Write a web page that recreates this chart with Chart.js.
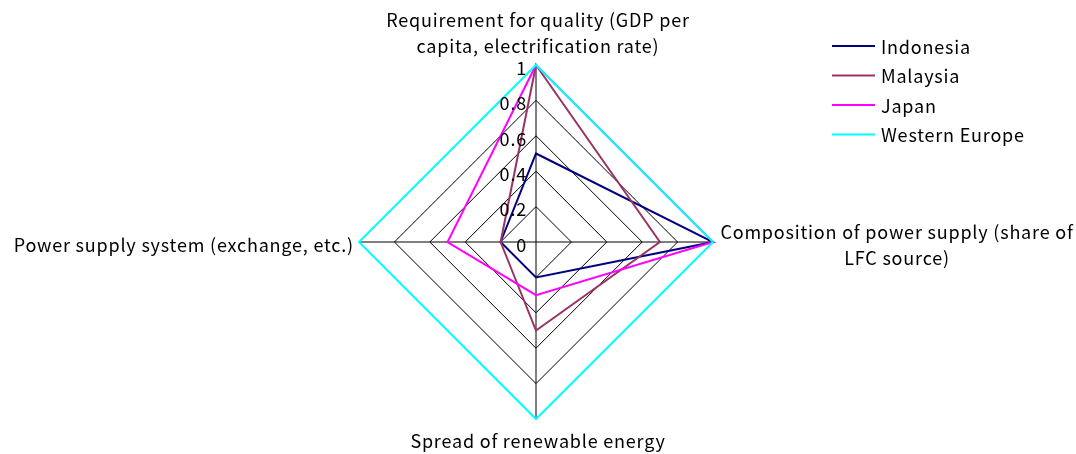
<!DOCTYPE html>
<html>
<head>
<meta charset="utf-8">
<script src="https://cdn.jsdelivr.net/npm/chart.js@4.4.1/dist/chart.umd.min.js"></script>
<style>
  html, body { margin: 0; padding: 0; background: #fff; }
  #wrap { width: 1076px; height: 454px; }
</style>
</head>
<body>
<div id="wrap"><canvas id="c" width="1076" height="454"></canvas></div>
<script>
const axisLabels = [
  ['Requirement for quality (GDP per', 'capita, electrification rate)'],
  ['Composition of power supply (share of', 'LFC source)'],
  ['Spread of renewable energy'],
  ['Power supply system (exchange, etc.)']
];
const seriesNames = ['Indonesia', 'Malaysia', 'Japan', 'Western Europe'];
const indonesia = [0.5, 1, 0.2, 0.2];
const malaysia = [1, 0.7, 0.5, 0.2];
const japan = [1, 1, 0.3, 0.5];
const westernEurope = [1, 1, 1, 1];
const tickValues = [0, 0.2, 0.4, 0.6, 0.8, 1];
const tickLabels = ['0', '0.2', '0.4', '0.6', '0.8', '1'];
const colors = ['#000080', '#993366', '#FF00FF', '#00FFFF'];

const FONT = '18px "Noto Sans CJK JP", "Noto Sans", sans-serif';

const seriesData = [indonesia, malaysia, japan, westernEurope];

// Draws axis titles, tick numbers and the legend on top of the radar.
const annotate = {
  id: 'annotate',
  afterDraw(chart) {
    const ctx = chart.ctx;
    const r = chart.scales.r;
    const cx = r.xCenter, cy = r.yCenter;
    ctx.save();
    ctx.font = FONT;
    ctx.letterSpacing = '0.8px';
    ctx.fillStyle = '#000';

    // tick numbers along the upper vertical axis
    ctx.textAlign = 'right';
    ctx.textBaseline = 'middle';
    tickValues.forEach((v, i) => {
      const d = r.getDistanceFromCenterForValue(v);
      ctx.fillText(tickLabels[i], cx - 9, cy - d + 3);
    });

    // axis titles
    const lh = 26;
    const top = r.getPointPositionForValue(0, 1);
    ctx.textAlign = 'center';
    ctx.fillText(axisLabels[0][0], top.x + 2, top.y - 45);
    ctx.fillText(axisLabels[0][1], top.x + 2, top.y - 45 + lh);

    const right = r.getPointPositionForValue(1, 1);
    ctx.textAlign = 'center';
    ctx.fillText(axisLabels[1][0], right.x + 184, right.y - 10);
    ctx.fillText(axisLabels[1][1], right.x + 184, right.y - 10 + lh);

    const bottom = r.getPointPositionForValue(2, 1);
    ctx.textAlign = 'center';
    ctx.fillText(axisLabels[2][0], bottom.x + 2, bottom.y + 22);

    const left = r.getPointPositionForValue(3, 1);
    ctx.textAlign = 'right';
    ctx.fillText(axisLabels[3][0], left.x - 5, left.y + 3);

    // legend
    ctx.textAlign = 'left';
    chart.data.datasets.forEach((ds, i) => {
      const y = 46 + i * 29.5;
      ctx.strokeStyle = ds.borderColor;
      ctx.lineWidth = 2;
      ctx.beginPath();
      ctx.moveTo(832, y);
      ctx.lineTo(875, y);
      ctx.stroke();
      ctx.fillStyle = '#000';
      ctx.fillText(ds.label, 881, y + 1);
    });
    ctx.restore();
  }
};

new Chart(document.getElementById('c'), {
  type: 'radar',
  data: {
    labels: axisLabels.map(l => l.join(' ')),
    datasets: seriesNames.map((name, i) => ({
      label: name,
      data: seriesData[i],
      borderColor: colors[i],
      backgroundColor: 'transparent',
      borderWidth: 2,
      pointRadius: 0,
      fill: false,
      tension: 0,
      // later series are painted over earlier ones
      order: seriesNames.length - i
    }))
  },
  options: {
    responsive: false,
    animation: false,
    devicePixelRatio: 1,
    layout: { padding: { top: 65, bottom: 35, left: 0, right: 4 } },
    plugins: { legend: { display: false }, tooltip: { enabled: false } },
    scales: {
      r: {
        min: 0,
        max: 1,
        beginAtZero: true,
        ticks: { display: false, stepSize: 0.2 },
        pointLabels: { display: false },
        grid: { color: '#000', lineWidth: 1, circular: false },
        angleLines: { display: true, color: '#000', lineWidth: 1 }
      }
    }
  },
  plugins: [annotate]
});
</script>
</body>
</html>
